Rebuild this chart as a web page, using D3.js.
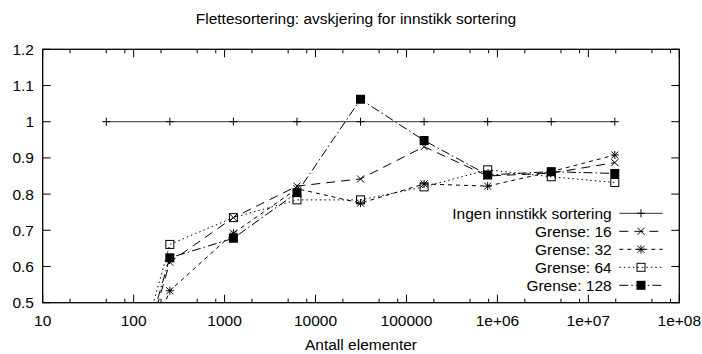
<!DOCTYPE html>
<html>
<head>
<meta charset="utf-8">
<script src="https://cdn.jsdelivr.net/npm/d3@7"></script>
<style>
  body { margin: 0; background: #fff; }
  text { font-family: "Liberation Sans", Arial, Helvetica, sans-serif; font-size: 15.5px; fill: #000; }
</style>
</head>
<body>
<svg></svg>
<script>
const size = {w: 702, h: 354};
const plot = {l: 42.7, r: 679.3, t: 49.3, b: 302.7};

// data
const title = 'Flettesortering: avskjering for innstikk sortering';
const xLabel = 'Antall elementer';
const sizes = [50, 250, 1250, 6250, 31250, 156250, 781250, 3906250, 19531250];
const ingen = [1, 1, 1, 1, 1, 1, 1, 1, 1];
const grense16 = [0.01, 0.612, 0.735, 0.822, 0.842, 0.931, 0.850, 0.858, 0.887];
const grense32 = [0.10, 0.533, 0.692, 0.815, 0.775, 0.828, 0.822, 0.862, 0.908];
const grense64 = [0.04, 0.661, 0.735, 0.784, 0.784, 0.820, 0.867, 0.848, 0.832];
const grense128 = [0.03, 0.624, 0.678, 0.804, 1.062, 0.948, 0.853, 0.862, 0.857];
const seriesNames = ['Ingen innstikk sortering', 'Grense: 16', 'Grense: 32', 'Grense: 64', 'Grense: 128'];
const xTicks = [10, 100, 1000, 10000, 100000, 1e6, 1e7, 1e8];
const xTickLabels = ['10', '100', '1000', '10000', '100000', '1e+06', '1e+07', '1e+08'];
const yTicks = [0.5, 0.6, 0.7, 0.8, 0.9, 1, 1.1, 1.2];
const yTickLabels = ['0.5', '0.6', '0.7', '0.8', '0.9', '1', '1.1', '1.2'];

const svg = d3.select('svg')
    .attr('width', size.w)
    .attr('height', size.h);

let x = d3.scaleLog().domain([10, 1e8]).range([plot.l, plot.r]);
let y = d3.scaleLinear().domain([0.5, 1.2]).range([plot.b, plot.t]);

// minor ticks at 2, 5, 8 of each decade (as seen in the picture)
let minor = [];
for (let d = 10; d < 1e8; d *= 10) {
    [2, 5, 8].forEach(m => minor.push(d * m));
}

let axisG = svg.append('g').classed('axes', true);

// ticks, drawn inward on all four sides
function tickLines(g, vals, len, horizontal) {
    vals.forEach(v => {
        if (horizontal) {
            g.append('line').attr('x1', x(v)).attr('x2', x(v)).attr('y1', plot.b).attr('y2', plot.b - len);
            g.append('line').attr('x1', x(v)).attr('x2', x(v)).attr('y1', plot.t).attr('y2', plot.t + len);
        } else {
            g.append('line').attr('y1', y(v)).attr('y2', y(v)).attr('x1', plot.l).attr('x2', plot.l + len);
            g.append('line').attr('y1', y(v)).attr('y2', y(v)).attr('x1', plot.r).attr('x2', plot.r - len);
        }
    });
}
let tickG = axisG.append('g').attr('stroke', '#000').attr('stroke-width', 1);
tickLines(tickG, xTicks, 8, true);
tickLines(tickG, minor, 4, true);
tickLines(tickG, yTicks, 8, false);

axisG.selectAll('.xl')
    .data(xTicks)
    .enter()
    .append('text')
    .attr('x', d => x(d))
    .attr('y', 326)
    .attr('text-anchor', 'middle')
    .text((d, i) => xTickLabels[i]);

axisG.selectAll('.yl')
    .data(yTicks)
    .enter()
    .append('text')
    .attr('x', 34)
    .attr('y', d => y(d))
    .attr('dy', '0.35em')
    .attr('text-anchor', 'end')
    .text((d, i) => yTickLabels[i]);

svg.append('text')
    .attr('x', 356)
    .attr('y', 24)
    .attr('text-anchor', 'middle')
    .text(title);

svg.append('text')
    .attr('x', (plot.l + plot.r) / 2)
    .attr('y', 350)
    .attr('text-anchor', 'middle')
    .text(xLabel);

// markers
function marker(g, type, cx, cy) {
    const s = 4;
    if (type === 'plus' || type === 'star') {
        g.append('path').attr('d', `M${cx - s},${cy}H${cx + s}M${cx},${cy - s}V${cy + s}`)
            .attr('stroke', '#000').attr('fill', 'none');
    }
    if (type === 'cross' || type === 'star') {
        const c = 3.5;
        g.append('path').attr('d', `M${cx - c},${cy - c}L${cx + c},${cy + c}M${cx - c},${cy + c}L${cx + c},${cy - c}`)
            .attr('stroke', '#000').attr('fill', 'none');
    }
    if (type === 'box') {
        g.append('rect').attr('x', cx - 4).attr('y', cy - 4).attr('width', 8).attr('height', 8)
            .attr('stroke', '#000').attr('fill', 'none');
    }
    if (type === 'fbox') {
        g.append('rect').attr('x', cx - 4.5).attr('y', cy - 4.5).attr('width', 9).attr('height', 9)
            .attr('fill', '#000');
    }
}

const allSeries = [ingen, grense16, grense32, grense64, grense128];
const markers = ['plus', 'cross', 'star', 'box', 'fbox'];
const dashes = [null, '9,6', '4,4', '1.5,3', '9,3,1.5,3'];

svg.append('clipPath').attr('id', 'clip')
    .append('rect')
    .attr('x', plot.l).attr('y', plot.t)
    .attr('width', plot.r - plot.l).attr('height', plot.b - plot.t);

let dataG = svg.append('g').attr('clip-path', 'url(#clip)');
let line = d3.line().x(d => x(d[0])).y(d => y(d[1]));

allSeries.forEach((vals, si) => {
    let pts = sizes.map((s, i) => [s, vals[i]]);
    dataG.append('path')
        .attr('d', line(pts))
        .attr('fill', 'none')
        .attr('stroke', si === 0 ? '#333' : '#000')
        .attr('stroke-width', 1)
        .attr('stroke-dasharray', dashes[si]);
    let mg = dataG.append('g');
    pts.forEach(p => marker(mg, markers[si], x(p[0]), y(p[1])));
});

// legend
let legG = svg.append('g').classed('legend', true);
seriesNames.forEach((name, i) => {
    let ly = 213.3 + i * 18;
    legG.append('text')
        .attr('x', 611.7)
        .attr('y', ly)
        .attr('dy', '0.35em')
        .attr('text-anchor', 'end')
        .text(name);
    legG.append('line')
        .attr('x1', 619.3).attr('x2', 662.7)
        .attr('y1', ly).attr('y2', ly)
        .attr('stroke', i === 0 ? '#333' : '#000')
        .attr('stroke-width', 1)
        .attr('stroke-dasharray', dashes[i]);
    marker(legG, markers[i], 641, ly);
});

// border
svg.append('rect')
    .attr('x', plot.l).attr('y', plot.t)
    .attr('width', plot.r - plot.l).attr('height', plot.b - plot.t)
    .attr('fill', 'none')
    .attr('stroke', '#000')
    .attr('stroke-width', 1.3);
</script>
</body>
</html>
